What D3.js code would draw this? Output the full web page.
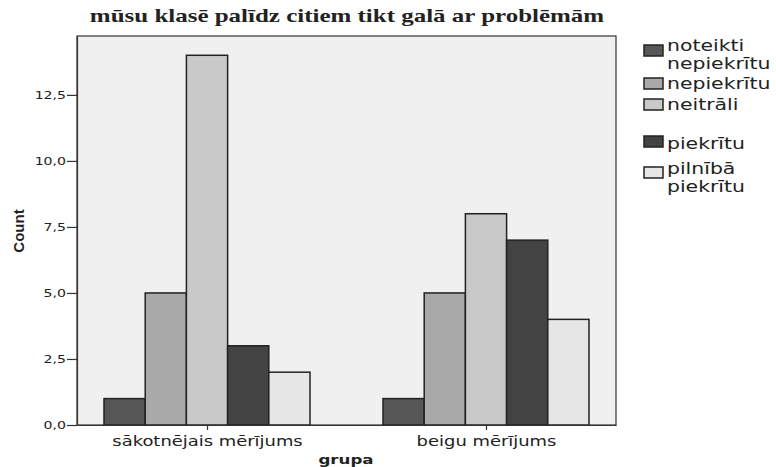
<!DOCTYPE html>
<html>
<head>
<meta charset="utf-8">
<script src="https://cdn.jsdelivr.net/npm/d3@7"></script>
<style>
  body { margin: 0; background: #fff; }
  text { font-family: "DejaVu Sans", sans-serif; fill: #222; }
</style>
</head>
<body>
<svg width="776" height="467"></svg>
<script>
// chart data
var groups = ["sākotnējais mērījums", "beigu mērījums"];
var answers = ["noteikti nepiekrītu", "nepiekrītu", "neitrāli", "piekrītu", "pilnībā piekrītu"];
var countsStart = [1, 5, 14, 3, 2];
var countsEnd = [1, 5, 8, 7, 4];
var yTicks = [0, 2.5, 5, 7.5, 10, 12.5];
var colors = ["#575757", "#a9a9a9", "#c9c9c9", "#434343", "#e6e6e6"];

var svg = d3.select("svg");
var pLeft = 77, pRight = 616, pTop = 36, pBottom = 425;
var stretch = 1.28; // the source picture is squeezed wide

var x = d3.scalePoint().domain(groups).range([pLeft, pRight]).padding(0.466);
var bw = 41.2;
var xi = d3.scaleBand().domain(answers).range([-bw * 2.5, bw * 2.5]);
var y = d3.scaleLinear().domain([0, 14.73]).range([pBottom, pTop]);

// plot background
svg.append("rect")
  .attr("x", pLeft).attr("y", pTop)
  .attr("width", pRight - pLeft).attr("height", pBottom - pTop)
  .attr("fill", "#f0f0f0")
  .attr("stroke", "#333").attr("stroke-width", 1.2);

// bars
var rows = groups.map(function(g, i) {
  var vals = i == 0 ? countsStart : countsEnd;
  return answers.map(function(a, j) { return { g: g, a: a, v: vals[j], c: colors[j] }; });
});
svg.append("g").selectAll("rect")
  .data(d3.merge(rows))
  .enter().append("rect")
    .attr("x", function(d) { return x(d.g) + xi(d.a); })
    .attr("y", function(d) { return y(d.v); })
    .attr("width", xi.bandwidth())
    .attr("height", function(d) { return pBottom - y(d.v); })
    .attr("fill", function(d) { return d.c; })
    .attr("stroke", "#222").attr("stroke-width", 1.5);

// y axis
var yAxis = svg.append("g")
  .attr("transform", "translate(" + pLeft + ",0)")
  .call(d3.axisLeft(y).tickValues(yTicks).tickSize(10).tickSizeOuter(0)
    .tickFormat(function(d) { return d3.format(".1f")(d).replace(".", ","); }));
yAxis.select(".domain").attr("stroke", "#333").attr("stroke-width", 1.2);
yAxis.selectAll(".tick line").attr("stroke", "#333").attr("stroke-width", 1.2);
yAxis.selectAll(".tick text").attr("font-size", 11).attr("x", -11).style("font-family", "DejaVu Sans").attr("fill", "#333");

// x axis
var xAxis = svg.append("g")
  .attr("transform", "translate(0," + pBottom + ")")
  .call(d3.axisBottom(x).tickSize(5).tickSizeOuter(0));
xAxis.select(".domain").attr("stroke", "#333").attr("stroke-width", 1.2);
xAxis.selectAll(".tick line").attr("stroke", "#333").attr("stroke-width", 1.2);
xAxis.selectAll(".tick text").attr("font-size", 14).attr("dy", 0).attr("y", 21)
  .style("font-family", "DejaVu Sans").attr("fill", "#333");

// titles
svg.append("text").attr("class", "title")
  .attr("x", 347).attr("y", 22).attr("text-anchor", "middle")
  .style("font-family", "Liberation Serif, serif").attr("font-weight", "bold").attr("font-size", 19.5)
  .text("mūsu klasē palīdz citiem tikt galā ar problēmām");
svg.append("text")
  .attr("x", 346).attr("y", 464).attr("text-anchor", "middle")
  .attr("font-weight", "bold").attr("font-size", 13)
  .text("grupa");
svg.append("text").attr("class", "nostretch")
  .attr("transform", "translate(24,231) rotate(-90)").attr("text-anchor", "middle")
  .style("font-family", "Liberation Sans, Arial").attr("font-weight", "bold").attr("font-size", 15)
  .text("Count");

// legend
var legendItems = [
  { lines: ["noteikti", "nepiekrītu"], top: 45, base: 51 },
  { lines: ["nepiekrītu"], top: 78, base: 89 },
  { lines: ["neitrāli"], top: 99, base: 110 },
  { lines: ["piekrītu"], top: 136, base: 149 },
  { lines: ["pilnībā", "piekrītu"], top: 167, base: 174 }
];
var lg = svg.append("g");
legendItems.forEach(function(it, i) {
  lg.append("rect").attr("x", 644).attr("y", it.top).attr("width", 19).attr("height", 11)
    .attr("fill", colors[i]).attr("stroke", "#222").attr("stroke-width", 1.5);
  it.lines.forEach(function(t, k) {
    lg.append("text").attr("class", "leg").attr("x", 667).attr("y", it.base + k * 17.5)
      .attr("font-size", 15).attr("fill", "#222").text(t);
  });
});

// widen every horizontal text to imitate the stretched source
svg.selectAll("text").each(function() {
  var el = d3.select(this);
  if (el.classed("nostretch")) return;
  var w = this.getComputedTextLength();
  var s = el.classed("leg") ? 1.36 : stretch;
  el.attr("textLength", w * s).attr("lengthAdjust", "spacingAndGlyphs");
});
</script>
</body>
</html>
